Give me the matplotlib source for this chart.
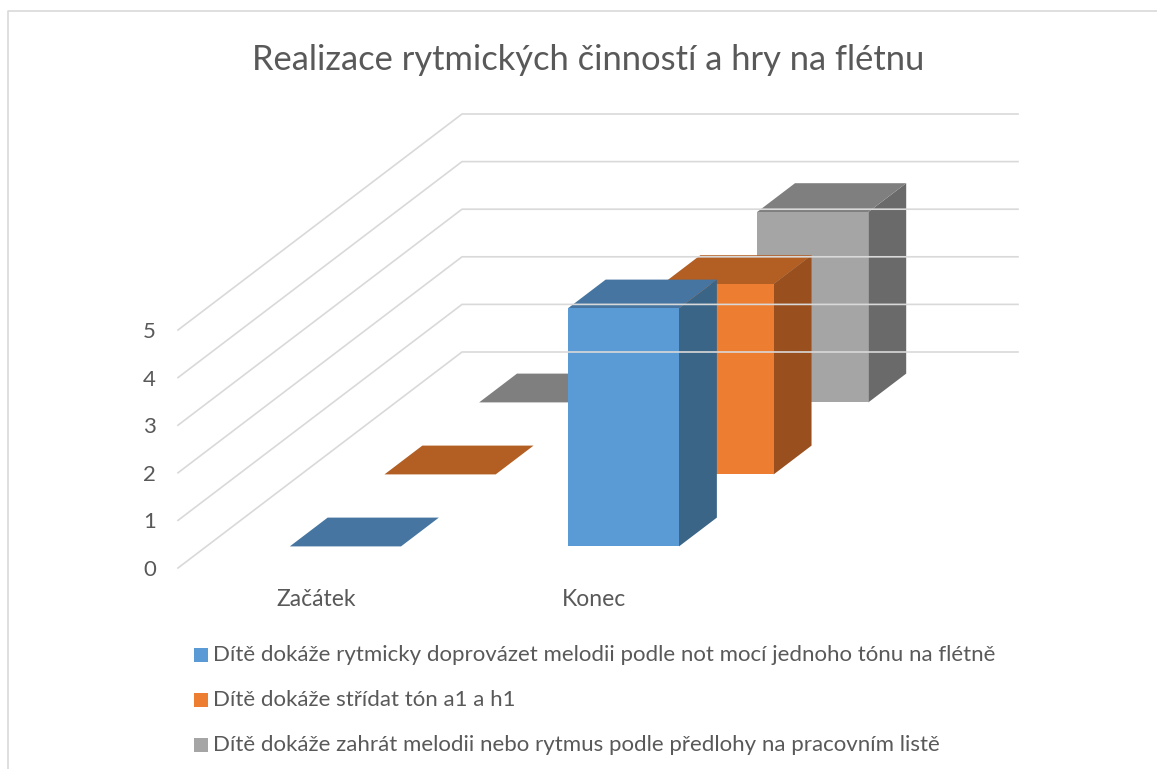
import matplotlib
matplotlib.use("Agg")
import matplotlib.pyplot as plt
from matplotlib.patches import Polygon, Rectangle

# ---- data ----
categories = ["Začátek", "Konec"]
series_names = [
    "Dítě dokáže rytmicky doprovázet melodii podle not mocí jednoho tónu na flétně",
    "Dítě dokáže střídat tón a1 a h1",
    "Dítě dokáže zahrát melodii nebo rytmus podle předlohy na pracovním listě",
]
series_values = [
    [0, 5],
    [0, 4],
    [0, 4],
]
y_ticks = [0, 1, 2, 3, 4, 5]
title = "Realizace rytmických činností a hry na flétnu"

# ---- styles ----
front_cols = ["#5B9BD5", "#ED7D31", "#A5A5A5"]
top_cols = ["#4575A0", "#B35E22", "#7F7F7F"]
side_cols = ["#3A6587", "#9A501E", "#6A6A6A"]
text_col = "#595959"
grid_col = "#D9D9D9"
FONT = "Lato"

W, H = 1157, 769
fig = plt.figure(figsize=(W / 100, H / 100), dpi=100)
ax = fig.add_axes([0, 0, 1, 1])
ax.set_xlim(0, W)
ax.set_ylim(H, 0)
ax.axis("off")

# oblique projection parameters (pixel space)
X0, Y0 = 178.0, 568.0   # front-left floor corner
CW = 278.0              # width per category
DX, DY = 284.0, 216.0   # full depth offset
U = 47.6                # pixels per value unit
nS = len(series_values)


def proj(xu, d, v):
    return (X0 + xu * CW + d * DX, Y0 - d * DY - v * U)


# border
ax.plot([8, 8, W + 5], [H + 5, 11, 11], color=grid_col, lw=1.2, solid_capstyle="butt")

# gridlines (side wall + back wall)
for k in y_ticks:
    pts = [proj(0, 0, k), proj(0, 1, k), proj(len(categories), 1, k)]
    ax.plot([p[0] for p in pts], [p[1] for p in pts], color=grid_col, lw=1.2)
    x, y = proj(0, 0, k)
    ax.text(x - 22, y + 2, str(k), ha="right", va="center", fontsize=16,
            color=text_col, family=FONT)

# bars, back to front
gap = 0.3
for j in reversed(range(nS)):
    d0 = (j + gap) / nS
    d1 = (j + 1 - gap) / nS
    for i, v in enumerate(series_values[j]):
        x0 = i + gap
        x1 = i + 1 - gap
        side = [proj(x1, d0, 0), proj(x1, d1, 0), proj(x1, d1, v), proj(x1, d0, v)]
        top = [proj(x0, d0, v), proj(x1, d0, v), proj(x1, d1, v), proj(x0, d1, v)]
        front = [proj(x0, d0, 0), proj(x1, d0, 0), proj(x1, d0, v), proj(x0, d0, v)]
        if v > 0:
            ax.add_patch(Polygon(side, closed=True, fc=side_cols[j], ec="none"))
        ax.add_patch(Polygon(top, closed=True, fc=top_cols[j], ec="none"))
        if v > 0:
            ax.add_patch(Polygon(front, closed=True, fc=front_cols[j], ec="none"))

# category labels
for i, c in enumerate(categories):
    x, y = proj(i + 0.5, 0, 0)
    ax.text(x - 1, 600, c, ha="center", va="center", fontsize=16.5,
            color=text_col, family=FONT)

# title
ax.text(588, 60, title, ha="center", va="center", fontsize=24.8,
        color=text_col, family=FONT)

# legend
leg_y = [655, 700, 745]
for j, name in enumerate(series_names):
    ax.add_patch(Rectangle((194, leg_y[j] - 7), 14, 14, fc=front_cols[j], ec="none"))
    ax.text(213, leg_y[j], name, ha="left", va="center", fontsize=16,
            color=text_col, family=FONT)

fig.savefig("out.png", dpi=100)
